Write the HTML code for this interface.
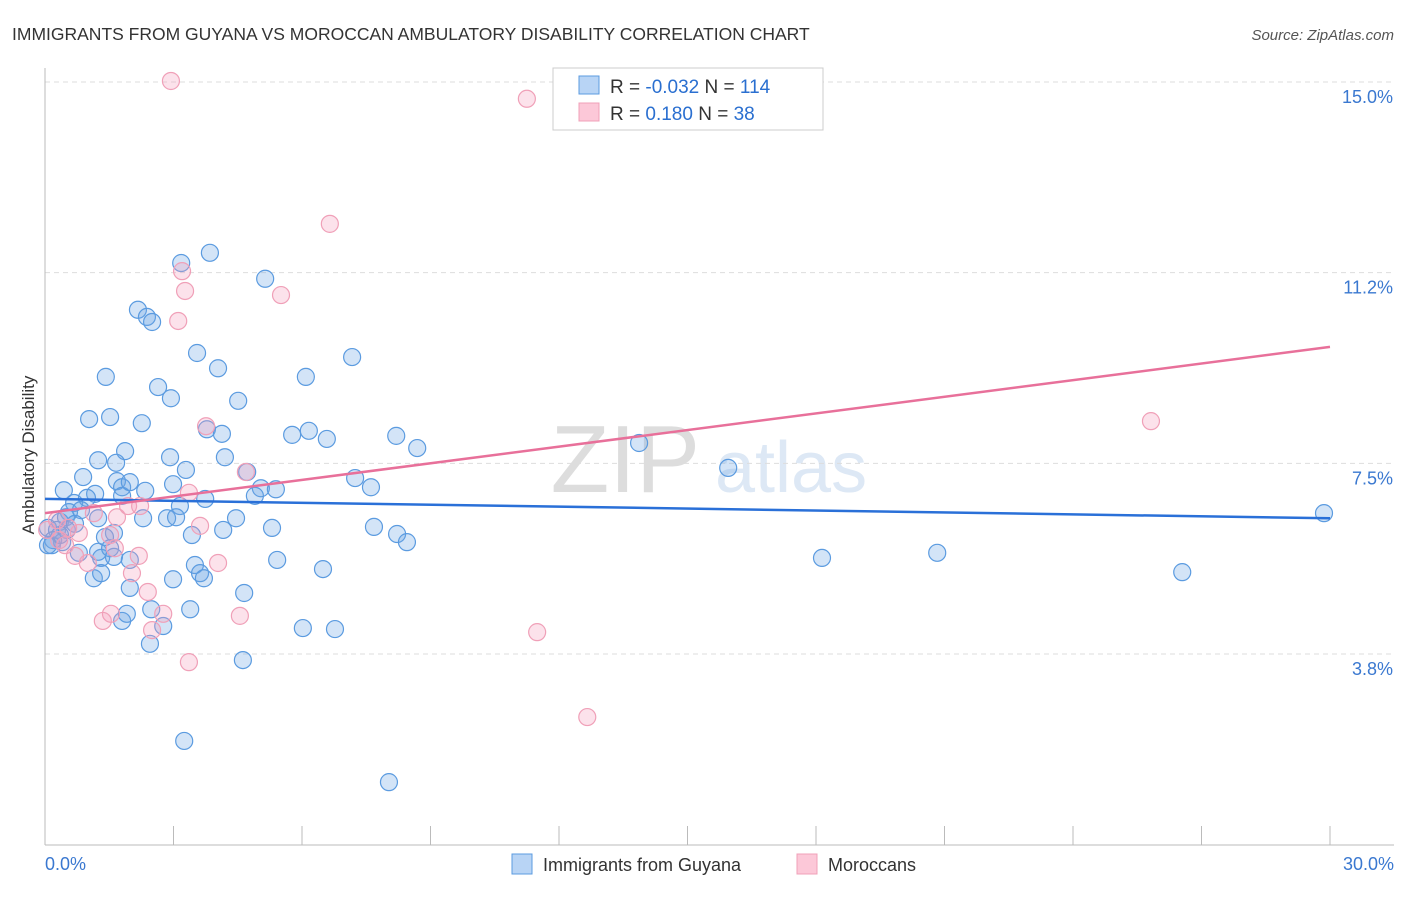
<!DOCTYPE html>
<html><head><meta charset="utf-8"><style>
body{margin:0;background:#fff;font-family:"Liberation Sans",sans-serif;}
svg text{font-family:"Liberation Sans",sans-serif;}
</style></head><body>
<svg id="c" width="1406" height="892">
<text x="12" y="40" font-size="17.5" fill="#333">IMMIGRANTS FROM GUYANA VS MOROCCAN AMBULATORY DISABILITY CORRELATION CHART</text>
<text x="1394" y="40" font-size="15" fill="#555" font-style="italic" text-anchor="end">Source: ZipAtlas.com</text>
<text x="700" y="492" font-size="96" fill="#ddd" text-anchor="end" font-family="Liberation Serif">ZIP</text>
<text x="715" y="492" font-size="72" fill="#dde8f5">atlas</text>
<text transform="translate(34,455) rotate(-90)" font-size="17" fill="#333" text-anchor="middle">Ambulatory Disability</text>
<g id="grid"></g><g id="ax"></g><g id="pts"></g><g id="trend"></g>
<g>
<rect x="553" y="68" width="270" height="62" fill="#fff" stroke="#ccc"/>
<rect x="579" y="76" width="20" height="18" fill="#b8d4f5" stroke="#5b9be0"/>
<rect x="579" y="103" width="20" height="18" fill="#fcc8d8" stroke="#f0a0b8"/>
<text x="610" y="93" font-size="19" fill="#333">R = <tspan fill="#2a6fd0">-0.032</tspan>   N = <tspan fill="#2a6fd0">114</tspan></text>
<text x="610" y="120" font-size="19" fill="#333">R =   <tspan fill="#2a6fd0">0.180</tspan>   N =  <tspan fill="#2a6fd0">38</tspan></text>
</g>
<g>
<rect x="512" y="854" width="20" height="20" fill="#b8d4f5" stroke="#5b9be0"/>
<text x="543" y="871" font-size="18" fill="#333">Immigrants from Guyana</text>
<rect x="797" y="854" width="20" height="20" fill="#fcc8d8" stroke="#f0a0b8"/>
<text x="828" y="871" font-size="18" fill="#333">Moroccans</text>
</g>
</svg>
<script>
const yTicks=[3.75,7.5,11.25,15];
const yTickLabels=["3.8%","7.5%","11.2%","15.0%"];
const xTickVals=[0,3,6,9,12,15,18,21,24,27,30];
const xEndLabels=["0.0%","30.0%"];
const blueX=[3.18,3.85,5.14,2.17,2.38,2.50,3.55,7.17,4.04,1.42,6.09,2.64,2.94,4.51,1.52,1.03,2.26,3.78,4.13,5.77,6.16,6.58,8.20,8.69,13.87,1.87,1.66,1.24,2.92,3.29,4.20,15.95,0.89,7.24,4.72,0.44,1.17,1.68,1.80,1.80,2.34,1.98,2.99,7.61,5.04,5.39,4.90,3.74,3.15,0.68,0.98,0.56,0.84,0.35,0.49,2.29,2.85,3.06,4.46,0.07,0.28,0.19,0.51,0.70,1.24,5.30,7.68,8.22,8.45,1.61,1.40,3.43,4.16,0.16,0.40,0.79,1.31,1.24,1.52,1.61,1.98,3.50,5.42,6.49,18.14,20.83,26.55,29.86,1.14,1.31,2.99,3.62,3.71,1.98,4.65,2.48,3.39,1.80,1.91,2.76,6.02,6.77,2.45,4.62,3.25,8.03,0.35,0.07];
const blueY=[11.44,11.64,11.13,10.52,10.38,10.28,9.67,9.59,9.37,9.20,9.20,9.00,8.78,8.73,8.41,8.37,8.29,8.17,8.08,8.06,8.14,7.98,8.04,7.80,7.90,7.74,7.51,7.56,7.62,7.37,7.62,7.41,7.23,7.21,7.33,6.97,6.90,7.15,7.03,6.86,6.96,7.13,7.09,7.03,7.01,6.99,6.86,6.80,6.66,6.72,6.82,6.54,6.58,6.35,6.44,6.42,6.42,6.44,6.42,6.23,6.19,5.99,6.19,6.31,6.42,6.23,6.25,6.11,5.95,6.13,6.05,6.09,6.19,5.89,5.95,5.74,5.64,5.76,5.83,5.66,5.60,5.50,5.60,5.42,5.64,5.74,5.36,6.52,5.24,5.34,5.22,5.34,5.24,5.05,4.95,4.63,4.63,4.40,4.54,4.30,4.26,4.24,3.95,3.63,2.04,1.23,6.09,5.89];
const pinkX=[2.94,11.25,6.65,3.20,3.27,5.51,3.11,3.76,4.69,25.82,3.36,1.14,1.68,1.94,2.22,3.62,0.79,1.52,0.33,0.47,0.70,1.00,1.63,2.19,4.04,2.03,2.40,2.76,1.54,1.35,4.55,2.50,3.36,11.49,12.66,0.28,0.54,0.05];
const pinkY=[15.02,14.67,12.21,11.28,10.89,10.81,10.30,8.23,7.33,8.33,6.92,6.52,6.44,6.66,6.66,6.27,6.13,6.09,5.99,5.89,5.68,5.54,5.83,5.68,5.54,5.34,4.97,4.54,4.54,4.40,4.50,4.22,3.59,4.18,2.51,6.38,6.23,6.19];
const blueTrend=[6.80,6.42];
const pinkTrend=[6.52,9.79];
const NS="http://www.w3.org/2000/svg";
const X=v=>45+v*(1285/30);
const Y=v=>82+(15-v)*(572/11.25);
function mk(tag,attrs,parent){const e=document.createElementNS(NS,tag);for(const k in attrs)e.setAttribute(k,attrs[k]);document.getElementById(parent).appendChild(e);return e;}
yTicks.forEach((t,i)=>{
 const l=mk('line',{x1:45,x2:1394,y1:Y(t),y2:Y(t),stroke:'#ddd','stroke-dasharray':'5,4'},'grid');
 
 
 const tx=mk('text',{x:1393,y:Y(t)+21,'font-size':18,fill:'#3a78d0','text-anchor':'end'},'ax');
 tx.textContent=yTickLabels[i];
 
 
});
const ya=mk('line',{x1:45,x2:45,y1:68,y2:845,stroke:'#bbb'},'ax');


const xa=mk('line',{x1:45,x2:1394,y1:845,y2:845,stroke:'#bbb'},'ax');


xTickVals.forEach(t=>{
 const l=mk('line',{x1:X(t),x2:X(t),y1:826,y2:845,stroke:'#bbb'},'ax');
 
 
});
[[0,'start',45],[30,'end',1394]].forEach((d,i)=>{
 const tx=mk('text',{x:d[2],y:870,'font-size':18,fill:'#3a78d0','text-anchor':d[1]},'ax');
 tx.textContent=xEndLabels[i];
 
 
});
blueX.forEach((v,i)=>{
 const c=mk('circle',{cx:X(v),cy:Y(blueY[i]),r:8.5,fill:'rgba(110,165,230,0.3)',stroke:'#5b9be0','stroke-width':1.2},'pts');
 
 
});
pinkX.forEach((v,i)=>{
 const c=mk('circle',{cx:X(v),cy:Y(pinkY[i]),r:8.5,fill:'rgba(245,160,190,0.3)',stroke:'#f0a0b8','stroke-width':1.2},'pts');
 
 
});
const bt=mk('line',{x1:X(0),x2:X(30),y1:Y(blueTrend[0]),y2:Y(blueTrend[1]),stroke:'#2a70d8','stroke-width':2.5},'trend');


const pt=mk('line',{x1:X(0),x2:X(30),y1:Y(pinkTrend[0]),y2:Y(pinkTrend[1]),stroke:'#e8709a','stroke-width':2.5},'trend');


</script>
</body></html>
